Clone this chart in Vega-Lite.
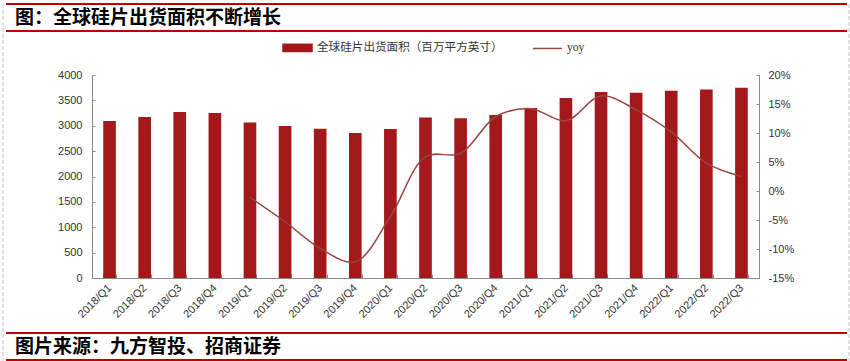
{
  "$schema": "https://vega.github.io/schema/vega-lite/v6.json",
  "padding": {"left": 0, "top": 3, "right": 0, "bottom": 0},
  "background": "white",
  "config": {"view": {"stroke": null}, "font": "Liberation Sans", "axis": {"labelFont": "Liberation Sans"}},
  "datasets": {
    "wafer": [
      {"q": "2018/Q1", "area": 3094, "yoy": null},
      {"q": "2018/Q2", "area": 3172, "yoy": null},
      {"q": "2018/Q3", "area": 3271, "yoy": null},
      {"q": "2018/Q4", "area": 3251, "yoy": null},
      {"q": "2019/Q1", "area": 3066, "yoy": -1.1},
      {"q": "2019/Q2", "area": 2995, "yoy": -5.3},
      {"q": "2019/Q3", "area": 2942, "yoy": -9.9},
      {"q": "2019/Q4", "area": 2857, "yoy": -12.2},
      {"q": "2020/Q1", "area": 2936, "yoy": -4.4},
      {"q": "2020/Q2", "area": 3165, "yoy": 5.9},
      {"q": "2020/Q3", "area": 3147, "yoy": 6.5},
      {"q": "2020/Q4", "area": 3211, "yoy": 12.8},
      {"q": "2021/Q1", "area": 3350, "yoy": 14.2},
      {"q": "2021/Q2", "area": 3547, "yoy": 12.1},
      {"q": "2021/Q3", "area": 3665, "yoy": 16.4},
      {"q": "2021/Q4", "area": 3651, "yoy": 14.0},
      {"q": "2022/Q1", "area": 3690, "yoy": 10.2},
      {"q": "2022/Q2", "area": 3716, "yoy": 4.8},
      {"q": "2022/Q3", "area": 3750, "yoy": 2.5}
    ]
  },
  "spacing": 0,
  "hconcat": [
    {
      "width": 5, "height": 361,
      "data": {"values": [{}]},
      "mark": {"type": "rule", "color": "#c4c4c4", "strokeDash": [4, 2], "strokeWidth": 1},
      "encoding": {"x": {"datum": 3, "scale": {"domain": [0, 5]}, "axis": null}}
    },
    {
      "spacing": 0,
      "vconcat": [
        {
          "width": 841, "height": 27,
          "data": {"values": [{"t": "图：全球硅片出货面积不断增长"}]},
          "layer": [
            {"mark": {"type": "rule", "color": "#c00000", "strokeWidth": 2},
             "encoding": {"y": {"datum": 1, "scale": {"domain": [0, 1]}, "axis": null}}},
            {"mark": {"type": "rule", "color": "#c00000", "strokeWidth": 2},
             "encoding": {"y": {"datum": 0}}},
            {"mark": {"type": "text", "align": "left", "baseline": "middle", "dx": 9, "font": "Noto Sans CJK SC", "fontWeight": "bold", "fontSize": 19, "color": "#000000"},
             "encoding": {"x": {"datum": 0, "scale": {"domain": [0, 1]}, "axis": null}, "y": {"datum": 0.5}, "text": {"field": "t"}}}
          ]
        },
        {
          "spacing": 0,
          "resolve": {"scale": {"color": "independent"}, "legend": {"color": "independent"}},
          "hconcat": [
            {
              "width": 51, "height": 10,
              "data": {"values": [{}]},
              "mark": {"type": "text", "text": ""},
              "encoding": {}
            },
            {
              "width": 667, "height": 203,
              "data": {"name": "wafer"},
              "encoding": {
                "x": {
                  "field": "q", "type": "ordinal", "sort": null,
                  "scale": {"paddingInner": 0.64, "paddingOuter": 0.32},
                  "axis": {"title": null, "labelAngle": -45, "labelAlign": "right", "labelBaseline": "middle", "labelFontSize": 11, "labelColor": "#333333", "domainColor": "#8a8a8a", "tickColor": "#8a8a8a", "tickBand": "extent", "tickSize": -4, "labelPadding": 12, "grid": false}
                }
              },
              "layer": [
                {
                  "mark": {"type": "bar", "color": "#a3181b"},
                  "encoding": {
                    "y": {"field": "area", "type": "quantitative", "scale": {"domain": [0, 4000]},
                          "axis": {"title": null, "values": [0, 500, 1000, 1500, 2000, 2500, 3000, 3500, 4000], "format": "d", "labelFontSize": 11, "labelColor": "#333333", "domainColor": "#8a8a8a", "tickColor": "#8a8a8a", "tickSize": -3, "labelPadding": 13, "grid": false}},
                    "color": {
                      "datum": "全球硅片出货面积（百万平方英寸）",
                      "scale": {"domain": ["全球硅片出货面积（百万平方英寸）", "yoy"], "range": ["#a3181b", "#98473f"]},
                      "legend": {
                        "orient": "none", "legendX": 190, "legendY": -43, "direction": "horizontal", "title": null, "padding": 0,
                        "labelFont": "Liberation Serif, Noto Sans CJK SC", "labelFontSize": 11.6, "labelColor": "#333333", "labelLimit": 500,
                        "symbolSize": 841, "columnPadding": 27, "labelOffset": 4, "symbolStrokeWidth": 1.5,
                        "encode": {"symbols": {"update": {
                          "shape": {"signal": "datum.value === 'yoy' ? 'stroke' : 'M-1,-0.25H1V0.25H-1Z'"},
                          "fill": {"signal": "datum.value === 'yoy' ? 'transparent' : '#a3181b'"},
                          "stroke": {"signal": "datum.value === 'yoy' ? '#98473f' : 'transparent'"},
                          "strokeWidth": {"value": 1.5},
                          "opacity": {"value": 1}
                        }}}
                      }
                    }
                  }
                },
                {
                  "transform": [{"filter": "isValid(datum.yoy)"}],
                  "mark": {"type": "line", "interpolate": "catmull-rom", "strokeWidth": 1.5},
                  "encoding": {
                    "y": {"field": "yoy", "type": "quantitative", "scale": {"domain": [-15, 20]},
                          "axis": {"orient": "right", "title": null, "values": [-15, -10, -5, 0, 5, 10, 15, 20], "labelExpr": "datum.value + '%'", "labelFontSize": 11, "labelColor": "#333333", "domainColor": "#8a8a8a", "tickColor": "#8a8a8a", "tickSize": -3, "labelPadding": 12, "grid": false}},
                    "color": {"datum": "yoy"}
                  }
                }
              ],
              "resolve": {"scale": {"y": "independent"}}
            }
          ]
        },
        {
          "width": 841, "height": 11,
          "data": {"values": [{}]},
          "mark": {"type": "text", "text": ""},
          "encoding": {}
        },
        {
          "width": 841, "height": 27,
          "data": {"values": [{"t": "图片来源：九方智投、招商证券"}]},
          "layer": [
            {"mark": {"type": "rule", "color": "#c00000", "strokeWidth": 2},
             "encoding": {"y": {"datum": 1, "scale": {"domain": [0, 1]}, "axis": null}}},
            {"mark": {"type": "rule", "color": "#c00000", "strokeWidth": 2},
             "encoding": {"y": {"datum": 0}}},
            {"mark": {"type": "text", "align": "left", "baseline": "middle", "dx": 9, "font": "Noto Sans CJK SC", "fontWeight": "bold", "fontSize": 19, "color": "#000000"},
             "encoding": {"x": {"datum": 0, "scale": {"domain": [0, 1]}, "axis": null}, "y": {"datum": 0.5}, "text": {"field": "t"}}}
          ]
        }
      ]
    },
    {
      "width": 4, "height": 361,
      "data": {"values": [{}]},
      "mark": {"type": "rule", "color": "#c4c4c4", "strokeDash": [4, 2], "strokeWidth": 1},
      "encoding": {"x": {"datum": 1, "scale": {"domain": [0, 4]}, "axis": null}}
    }
  ]
}
